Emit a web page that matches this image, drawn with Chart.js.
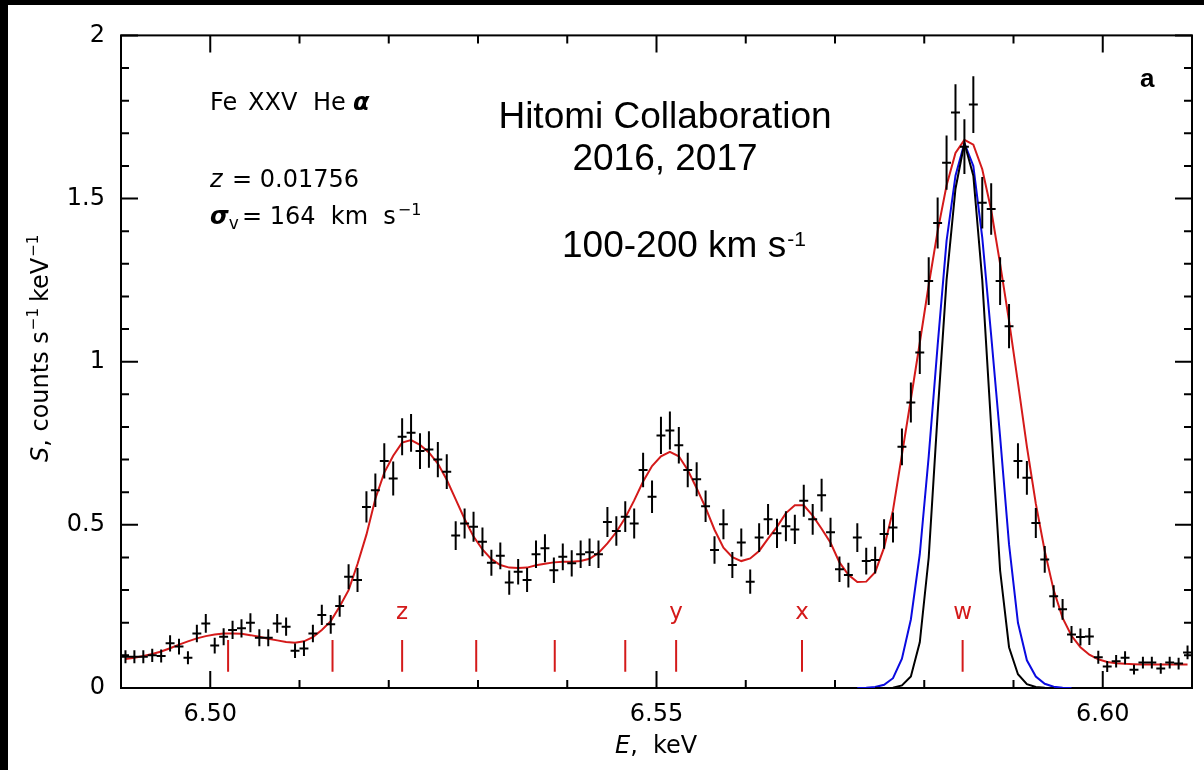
<!DOCTYPE html>
<html>
<head>
<meta charset="utf-8">
<title>Fe XXV He-alpha spectrum</title>
<script src="https://cdn.jsdelivr.net/npm/chart.js@4.4.1/dist/chart.umd.min.js"></script>
<style>
  html, body { margin: 0; padding: 0; background: #000; }
  body { width: 1204px; height: 770px; overflow: hidden; position: relative; }
  #wrap { position: absolute; left: 8px; top: 5px; width: 1196px; height: 765px; background: #fff; }
</style>
</head>
<body>
<div id="wrap"><canvas id="spectrum" width="1196" height="765"></canvas></div>
<script>
// bin centres, keV
const energy = [
  6.4905, 6.4915, 6.4925, 6.4935, 6.4945, 6.4955, 6.4965, 6.4975, 6.4985, 6.4995,
  6.5005, 6.5015, 6.5025, 6.5035, 6.5045, 6.5055, 6.5065, 6.5075, 6.5085, 6.5095,
  6.5105, 6.5115, 6.5125, 6.5135, 6.5145, 6.5155, 6.5165, 6.5175, 6.5185, 6.5195,
  6.5205, 6.5215, 6.5225, 6.5235, 6.5245, 6.5255, 6.5265, 6.5275, 6.5285, 6.5295,
  6.5305, 6.5315, 6.5325, 6.5335, 6.5345, 6.5355, 6.5365, 6.5375, 6.5385, 6.5395,
  6.5405, 6.5415, 6.5425, 6.5435, 6.5445, 6.5455, 6.5465, 6.5475, 6.5485, 6.5495,
  6.5505, 6.5515, 6.5525, 6.5535, 6.5545, 6.5555, 6.5565, 6.5575, 6.5585, 6.5595,
  6.5605, 6.5615, 6.5625, 6.5635, 6.5645, 6.5655, 6.5665, 6.5675, 6.5685, 6.5695,
  6.5705, 6.5715, 6.5725, 6.5735, 6.5745, 6.5755, 6.5765, 6.5775, 6.5785, 6.5795,
  6.5805, 6.5815, 6.5825, 6.5835, 6.5845, 6.5855, 6.5865, 6.5875, 6.5885, 6.5895,
  6.5905, 6.5915, 6.5925, 6.5935, 6.5945, 6.5955, 6.5965, 6.5975, 6.5985, 6.5995,
  6.6005, 6.6015, 6.6025, 6.6035, 6.6045, 6.6055, 6.6065, 6.6075, 6.6085, 6.6095
];

// observed flux, counts s^-1 keV^-1
const counts = [
  0.096, 0.096, 0.096, 0.100, 0.098, 0.137, 0.127, 0.093, 0.167, 0.198,
  0.130, 0.157, 0.178, 0.183, 0.200, 0.154, 0.154, 0.198, 0.188, 0.114,
  0.121, 0.167, 0.224, 0.195, 0.251, 0.341, 0.331, 0.555, 0.606, 0.696,
  0.642, 0.770, 0.782, 0.726, 0.731, 0.700, 0.663, 0.467, 0.504, 0.494,
  0.448, 0.384, 0.405, 0.323, 0.356, 0.331, 0.410, 0.428, 0.361, 0.402,
  0.382, 0.410, 0.416, 0.410, 0.509, 0.481, 0.525, 0.504, 0.668, 0.586,
  0.774, 0.789, 0.744, 0.668, 0.640, 0.557, 0.423, 0.502, 0.377, 0.446,
  0.326, 0.461, 0.517, 0.474, 0.496, 0.486, 0.574, 0.517, 0.591, 0.477,
  0.364, 0.346, 0.461, 0.389, 0.392, 0.472, 0.492, 0.739, 0.875, 1.028,
  1.247, 1.425, 1.610, 1.764, 1.659, 1.788, 1.487, 1.468, 1.247, 1.109,
  0.696, 0.644, 0.506, 0.394, 0.281, 0.241, 0.164, 0.156, 0.158, 0.094,
  0.066, 0.082, 0.093, 0.056, 0.078, 0.078, 0.060, 0.078, 0.075, 0.109
];

// 1-sigma errors on the flux
const errors = [
  0.020, 0.020, 0.020, 0.020, 0.020, 0.025, 0.024, 0.020, 0.027, 0.029,
  0.024, 0.026, 0.028, 0.028, 0.029, 0.026, 0.026, 0.029, 0.028, 0.022,
  0.023, 0.027, 0.031, 0.029, 0.033, 0.038, 0.037, 0.048, 0.051, 0.054,
  0.052, 0.057, 0.058, 0.055, 0.056, 0.054, 0.053, 0.044, 0.046, 0.046,
  0.044, 0.040, 0.041, 0.037, 0.039, 0.037, 0.042, 0.043, 0.039, 0.041,
  0.040, 0.042, 0.042, 0.042, 0.046, 0.045, 0.047, 0.046, 0.053, 0.050,
  0.057, 0.058, 0.056, 0.053, 0.052, 0.048, 0.042, 0.046, 0.040, 0.043,
  0.037, 0.044, 0.047, 0.045, 0.046, 0.045, 0.049, 0.047, 0.050, 0.045,
  0.039, 0.038, 0.044, 0.041, 0.041, 0.045, 0.046, 0.056, 0.061, 0.066,
  0.073, 0.078, 0.083, 0.086, 0.084, 0.087, 0.079, 0.079, 0.073, 0.068,
  0.054, 0.052, 0.046, 0.041, 0.034, 0.032, 0.026, 0.026, 0.026, 0.020,
  0.017, 0.019, 0.020, 0.015, 0.018, 0.018, 0.016, 0.018, 0.018, 0.021
];

// best-fit model (red)
const model = [
  0.089, 0.093, 0.098, 0.104, 0.112, 0.122, 0.133, 0.143, 0.152, 0.159,
  0.164, 0.167, 0.167, 0.166, 0.162, 0.157, 0.151, 0.146, 0.141, 0.139,
  0.143, 0.156, 0.178, 0.205, 0.250, 0.300, 0.380, 0.470, 0.580, 0.660,
  0.712, 0.752, 0.760, 0.745, 0.722, 0.688, 0.638, 0.578, 0.518, 0.464,
  0.425, 0.395, 0.377, 0.369, 0.368, 0.369, 0.376, 0.381, 0.385, 0.387,
  0.387, 0.389, 0.396, 0.414, 0.443, 0.478, 0.522, 0.575, 0.633, 0.680,
  0.710, 0.724, 0.710, 0.668, 0.612, 0.553, 0.485, 0.430, 0.401, 0.389,
  0.397, 0.420, 0.458, 0.494, 0.536, 0.560, 0.560, 0.528, 0.488, 0.445,
  0.385, 0.347, 0.325, 0.326, 0.355, 0.430, 0.545, 0.715, 0.885, 1.058,
  1.235, 1.400, 1.540, 1.640, 1.680, 1.665, 1.590, 1.465, 1.300, 1.125,
  0.935, 0.740, 0.565, 0.420, 0.300, 0.215, 0.160, 0.125, 0.102, 0.088,
  0.080, 0.076, 0.074, 0.073, 0.072, 0.072, 0.072, 0.072, 0.072, 0.072
];

// w line profile alone, broadened (blue) and thermal only (black)
const blueStart = 82;
const wBroad = [
  0.000, 0.001, 0.003, 0.010, 0.030, 0.090, 0.210, 0.410, 0.710, 1.050,
  1.370, 1.570, 1.670, 1.600, 1.380, 1.080, 0.770, 0.440, 0.200, 0.085,
  0.035, 0.013, 0.004, 0.001, 0.000
];
const blackStart = 84;
const wThermal = [
  0.000, 0.000, 0.001, 0.008, 0.035, 0.140, 0.400, 0.840, 1.250, 1.530,
  1.670, 1.570, 1.250, 0.800, 0.360, 0.125, 0.042, 0.012, 0.003, 0.001,
  0.000
];

// line identifications
const lineEnergy = [6.5020, 6.5137, 6.5215, 6.5298, 6.5386, 6.5465, 6.5522, 6.5663, 6.5843];
const lineName   = ['', '', 'z', '', '', '', 'y', 'x', 'w'];

// axis ticks
const xTicks = [6.50, 6.55, 6.60];
const xTickLabels = ['6.50', '6.55', '6.60'];
const yTicks = [0, 0.5, 1, 1.5, 2];
const yTickLabels = ['0', '0.5', '1', '1.5', '2'];

const halfBin = 0.0005;
const markLow = 0.05, markHigh = 0.147;

// crosses: vertical error bar + horizontal bin width, broken by nulls
const crossPts = [];
energy.forEach((e, i) => {
  crossPts.push({x: e, y: counts[i] - errors[i]}, {x: e, y: counts[i] + errors[i]}, {x: e, y: null});
  crossPts.push({x: e - halfBin, y: counts[i]}, {x: e + halfBin, y: counts[i]}, {x: e, y: null});
});
const markPts = [];
lineEnergy.forEach(e => {
  markPts.push({x: e, y: markLow}, {x: e, y: markHigh}, {x: e, y: null});
});
const toXY = (xs, ys) => ys.map((v, i) => ({x: xs[i], y: v}));

const RED = '#d41a1a';
const FONT = '"DejaVu Sans"';

function drawRich(ctx, x, y, parts) {
  let cx = x;
  parts.forEach(p => {
    ctx.font = p.font;
    if (p.at !== undefined) cx = p.at;
    ctx.fillText(p.text, cx, y + (p.dy || 0));
    cx += ctx.measureText(p.text).width + (p.gap || 0);
  });
}

const framePlugin = {
  id: 'frame',
  beforeDatasetsDraw(chart) {
    const {ctx, chartArea: a, scales: {x, y}} = chart;
    ctx.save();
    ctx.strokeStyle = '#000';
    ctx.lineWidth = 2;
    ctx.strokeRect(a.left, a.top, a.right - a.left, a.bottom - a.top);
    ctx.beginPath();
    for (let k = 0; k <= 20; k++) {
      const py = y.getPixelForValue(k / 10);
      const len = k % 5 === 0 ? 17 : 8;
      ctx.moveTo(a.left, py); ctx.lineTo(a.left + len, py);
      ctx.moveTo(a.right, py); ctx.lineTo(a.right - len, py);
    }
    for (let k = 1; k <= 11; k++) {
      const px = x.getPixelForValue(6.49 + k / 100);
      const len = k % 5 === 1 ? 17 : 8;
      ctx.moveTo(px, a.bottom); ctx.lineTo(px, a.bottom - len);
      ctx.moveTo(px, a.top); ctx.lineTo(px, a.top + len);
    }
    ctx.stroke();
    ctx.restore();
  },
  afterDraw(chart) {
    const {ctx, scales: {x}} = chart;
    ctx.save();
    ctx.fillStyle = '#000';
    ctx.textBaseline = 'alphabetic';
    ctx.textAlign = 'left';

    // left-hand annotation block
    drawRich(ctx, 202, 105, [
      {text: 'Fe', font: `24px ${FONT}`, at: 202},
      {text: 'XXV', font: `24px ${FONT}`, at: 240},
      {text: 'He', font: `24px ${FONT}`, at: 305},
      {text: 'α', font: `bold italic 24px ${FONT}`, at: 345}
    ]);
    drawRich(ctx, 202, 182, [
      {text: 'z', font: `italic 24px ${FONT}`},
      {text: '= 0.01756', font: `24px ${FONT}`, at: 224}
    ]);
    drawRich(ctx, 202, 219, [
      {text: 'σ', font: `bold italic 24px ${FONT}`},
      {text: 'v', font: `17px ${FONT}`, dy: 5},
      {text: '= 164  km  s', font: `24px ${FONT}`, at: 234, gap: 2},
      {text: '−1', font: `16px ${FONT}`, dy: -9}
    ]);

    // citation block
    ctx.textAlign = 'center';
    ctx.font = '37px "Liberation Sans"';
    ctx.fillText('Hitomi Collaboration', 657, 123);
    ctx.fillText('2016, 2017', 657, 165);
    ctx.textAlign = 'left';
    drawRich(ctx, 554, 252, [
      {text: '100-200 km s', font: '37px "Liberation Sans"', gap: 1},
      {text: '-1', font: '21px "Liberation Sans"', dy: -11}
    ]);

    ctx.font = 'bold 26px "Liberation Sans"';
    ctx.fillText('a', 1132, 82);

    // line identifications
    ctx.fillStyle = RED;
    ctx.textAlign = 'center';
    ctx.font = `23px ${FONT}`;
    lineEnergy.forEach((e, i) => {
      if (lineName[i]) ctx.fillText(lineName[i], x.getPixelForValue(e), 614);
    });

    // axis titles
    ctx.fillStyle = '#000';
    ctx.textAlign = 'left';
    drawRich(ctx, 607, 748, [
      {text: 'E', font: `italic 24px ${FONT}`},
      {text: ',  keV', font: `24px ${FONT}`}
    ]);
    ctx.translate(40, 457);
    ctx.rotate(-Math.PI / 2);
    drawRich(ctx, 0, 0, [
      {text: 'S', font: `italic 24px ${FONT}`},
      {text: ', counts s', font: `24px ${FONT}`, gap: 1},
      {text: '−1', font: `15px ${FONT}`, dy: -10, gap: 6},
      {text: 'keV', font: `24px ${FONT}`, gap: 1},
      {text: '−1', font: `15px ${FONT}`, dy: -10}
    ]);
    ctx.restore();
  }
};

new Chart(document.getElementById('spectrum'), {
  type: 'line',
  data: {
    datasets: [
      {
        label: 'data',
        data: crossPts,
        borderColor: '#000',
        borderWidth: 2,
        pointRadius: 0,
        spanGaps: false,
        order: 0
      },
      {
        label: 'model',
        data: toXY(energy, model),
        borderColor: RED,
        borderWidth: 2,
        pointRadius: 0,
        tension: 0,
        order: 1
      },
      {
        label: 'w, turbulent',
        data: toXY(energy.slice(blueStart), wBroad),
        borderColor: '#0a0ae0',
        borderWidth: 2,
        pointRadius: 0,
        order: 3
      },
      {
        label: 'w, thermal',
        data: toXY(energy.slice(blackStart), wThermal),
        borderColor: '#000',
        borderWidth: 2,
        pointRadius: 0,
        order: 2
      },
      {
        label: 'lines',
        data: markPts,
        borderColor: RED,
        borderWidth: 2,
        pointRadius: 0,
        spanGaps: false,
        order: 4
      }
    ]
  },
  options: {
    responsive: false,
    animation: false,
    events: [],
    layout: { padding: { top: 30, right: 12, left: 0, bottom: 0 } },
    plugins: { legend: { display: false }, tooltip: { enabled: false } },
    scales: {
      x: {
        type: 'linear',
        min: 6.49,
        max: 6.61,
        grid: { display: false, drawTicks: false },
        border: { display: false },
        afterBuildTicks: s => { s.ticks = xTicks.map(v => ({value: v})); },
        afterFit: s => { s.height = 82; },
        ticks: {
          padding: 12,
          color: '#000',
          font: { family: 'DejaVu Sans', size: 24 },
          maxRotation: 0,
          callback: (v, i) => xTickLabels[i]
        }
      },
      y: {
        min: 0,
        max: 2,
        grid: { display: false, drawTicks: false },
        border: { display: false },
        afterBuildTicks: s => { s.ticks = yTicks.map(v => ({value: v})); },
        afterFit: s => { s.width = 113; },
        ticks: {
          padding: 16,
          color: '#000',
          font: { family: 'DejaVu Sans', size: 24 },
          callback: (v, i) => yTickLabels[i]
        }
      }
    }
  },
  plugins: [framePlugin, {
    id: 'paper',
    beforeDraw(chart) {
      const c = chart.ctx;
      c.save();
      c.fillStyle = '#fff';
      c.fillRect(0, 0, chart.width, chart.height);
      c.restore();
    }
  }]
});
</script>
</body>
</html>
